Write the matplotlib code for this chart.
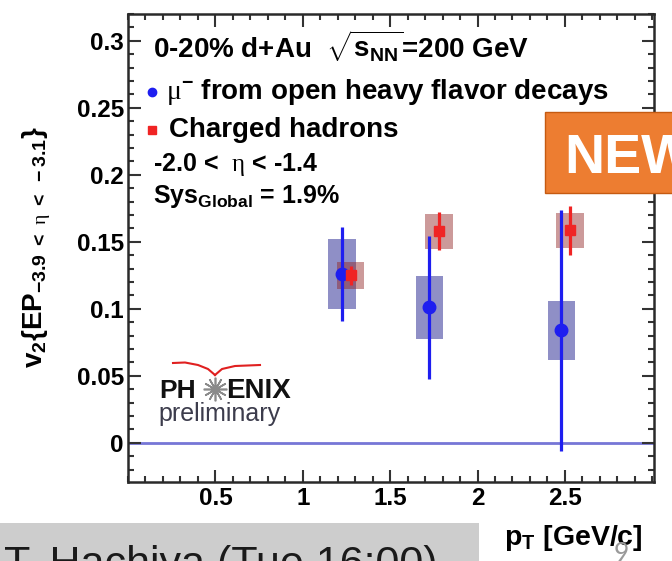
import matplotlib
matplotlib.use('Agg')
import matplotlib.pyplot as plt
from matplotlib.patches import Rectangle
from matplotlib.lines import Line2D
from matplotlib.ticker import MultipleLocator, FixedLocator, FixedFormatter

plt.rcParams['font.family'] = ['Liberation Sans', 'DejaVu Sans']
plt.rcParams['font.weight'] = 'bold'
plt.rcParams['mathtext.fontset'] = 'custom'
plt.rcParams['mathtext.rm'] = 'Liberation Serif:weight=normal'
plt.rcParams['mathtext.it'] = 'Liberation Sans:italic'
plt.rcParams['mathtext.bf'] = 'Liberation Sans:bold'
plt.rcParams['mathtext.default'] = 'regular'

# muons from open heavy flavor decays
pt_mu = [1.225, 1.725, 2.48]
v2_mu = [0.126, 0.101, 0.084]
stat_mu = [0.035, 0.053, 0.090]
sys_mu = [0.026, 0.0235, 0.022]

# charged hadrons
pt_h = [1.275, 1.78, 2.53]
v2_h = [0.125, 0.158, 0.1585]
stat_h = [0.007, 0.014, 0.018]
sys_h = [0.010, 0.013, 0.013]

box_half = 0.078

xticks = [0.5, 1, 1.5, 2, 2.5]
xlabels = ['0.5', '1', '1.5', '2', '2.5']
yticks = [0, 0.05, 0.1, 0.15, 0.2, 0.25, 0.3]
ylabels = ['0', '0.05', '0.1', '0.15', '0.2', '0.25', '0.3']

W, H = 672, 561
def fx(px):
    return px / W
def fy(py):
    return 1 - py / H

blue = '#1e1ef0'
red = '#f02424'

fig = plt.figure(figsize=(6.72, 5.61), dpi=100)
ax = fig.add_axes([fx(128), fy(481.7), (654 - 128) / W, (481.7 - 14) / H])
ax.set_xlim(0, 3.01)
ax.set_ylim(-0.029, 0.32)

ax.axhline(0, color='#7676d6', lw=2, zorder=0.5)

for x, y, s in zip(pt_mu, v2_mu, sys_mu):
    ax.add_patch(Rectangle((x - box_half, y - s), 2 * box_half, 2 * s,
                           facecolor='#20208f', alpha=0.5, lw=0, zorder=1))
for x, y, s in zip(pt_h, v2_h, sys_h):
    ax.add_patch(Rectangle((x - box_half, y - s), 2 * box_half, 2 * s,
                           facecolor='#8f2020', alpha=0.45, lw=0, zorder=2))

ax.errorbar(pt_mu, v2_mu, yerr=stat_mu, fmt='o', color=blue, ms=9,
            elinewidth=2.3, capsize=0, zorder=3)
ax.errorbar(pt_h, v2_h, yerr=stat_h, fmt='s', color=red, ms=7,
            elinewidth=2.3, capsize=0, zorder=4)

ax.xaxis.set_major_locator(FixedLocator(xticks))
ax.xaxis.set_major_formatter(FixedFormatter(xlabels))
ax.yaxis.set_major_locator(FixedLocator(yticks))
ax.yaxis.set_major_formatter(FixedFormatter(ylabels))
ax.xaxis.set_minor_locator(MultipleLocator(0.1))
ax.yaxis.set_minor_locator(MultipleLocator(0.01))
ax.tick_params(which='both', direction='in', top=True, right=True,
               width=1.5, color='#333333', labelsize=17.5)
ax.tick_params(which='major', length=9)
ax.tick_params(which='minor', length=4.5)
ax.tick_params(axis='x', pad=4)
ax.tick_params(axis='y', pad=3)
for sp in ax.spines.values():
    sp.set_linewidth(1.8)
    sp.set_color('#2a2a2a')

# legend block
fig.text(fx(153), fy(57), r'0-20% d+Au  $\sqrt{s_{NN}}$=200 GeV', fontsize=20)
fig.add_artist(Line2D([fx(151.7)], [fy(91.7)], marker='o', color=blue, ms=6,
                      transform=fig.transFigure))
fig.text(fx(166), fy(99), r'$\mathrm{\mu}^{-}$ from open heavy flavor decays', fontsize=20)
fig.add_artist(Line2D([fx(151.7)], [fy(130)], marker='s', color=red, ms=6,
                      transform=fig.transFigure))
fig.text(fx(169), fy(137), 'Charged hadrons', fontsize=20)
fig.text(fx(153), fy(171.5), r'-2.0 <  $\mathrm{\eta}$ < -1.4', fontsize=18)
fig.text(fx(153), fy(203), r'Sys$_{Global}$ = 1.9%', fontsize=18)

# PHENIX preliminary logo
fig.add_artist(Line2D([fx(p) for p in (173, 185, 198, 208, 215)],
                      [fy(p) for p in (363, 362.5, 365, 369, 375)],
                      color='#e02020', lw=1.5, transform=fig.transFigure))
fig.add_artist(Line2D([fx(p) for p in (215, 222, 235, 260)],
                      [fy(p) for p in (375, 369, 366, 365)],
                      color='#e02020', lw=1.5, transform=fig.transFigure))
fig.text(fx(159), fy(398), 'PH', fontsize=19, color='#111111')
fig.add_artist(Line2D([fx(215)], [fy(389)], marker=(12, 2, 0), color='#8a8a8a',
                      ms=17, mew=1.2, transform=fig.transFigure))
fig.text(fx(226), fy(398), 'ENIX', fontsize=20, color='#111111')
fig.text(fx(158), fy(421), 'preliminary', fontsize=18, fontweight='normal',
         color='#3c3c4c')

# axis titles
fig.text(fx(37), fy(247), r'v$_{2}${EP$_{-3.9\ <\ \mathrm{\eta}\ <\ -3.1}$}',
         rotation=90, fontsize=20, ha='center', va='center')
fig.text(fx(504), fy(545), r'p$_{T}$ [GeV/c]', fontsize=20.5)

# slide decorations
fig.patches.append(Rectangle((fx(545), fy(193.3)), (690 - 545) / W, (193.3 - 111.7) / H,
                             transform=fig.transFigure, facecolor='#ED7D31',
                             edgecolor='#C55A11', lw=1, zorder=5))
fig.text(fx(564), fy(173), 'NEW', color='white', fontsize=40, zorder=6)
fig.patches.append(Rectangle((0, 0), 479 / W, (561 - 523.3) / H,
                             transform=fig.transFigure, facecolor='#cdcdcd', lw=0))
fig.text(fx(4), fy(545), 'T. Hachiya (Tue 16:00)', fontsize=31, fontweight='normal',
         color='#1a1a1a', va='top')
fig.text(fx(614), fy(542), '9', fontsize=19, color='#9a9a9a', family='Lato',
         fontweight='normal', va='top')

fig.savefig('out.png', dpi=100)
